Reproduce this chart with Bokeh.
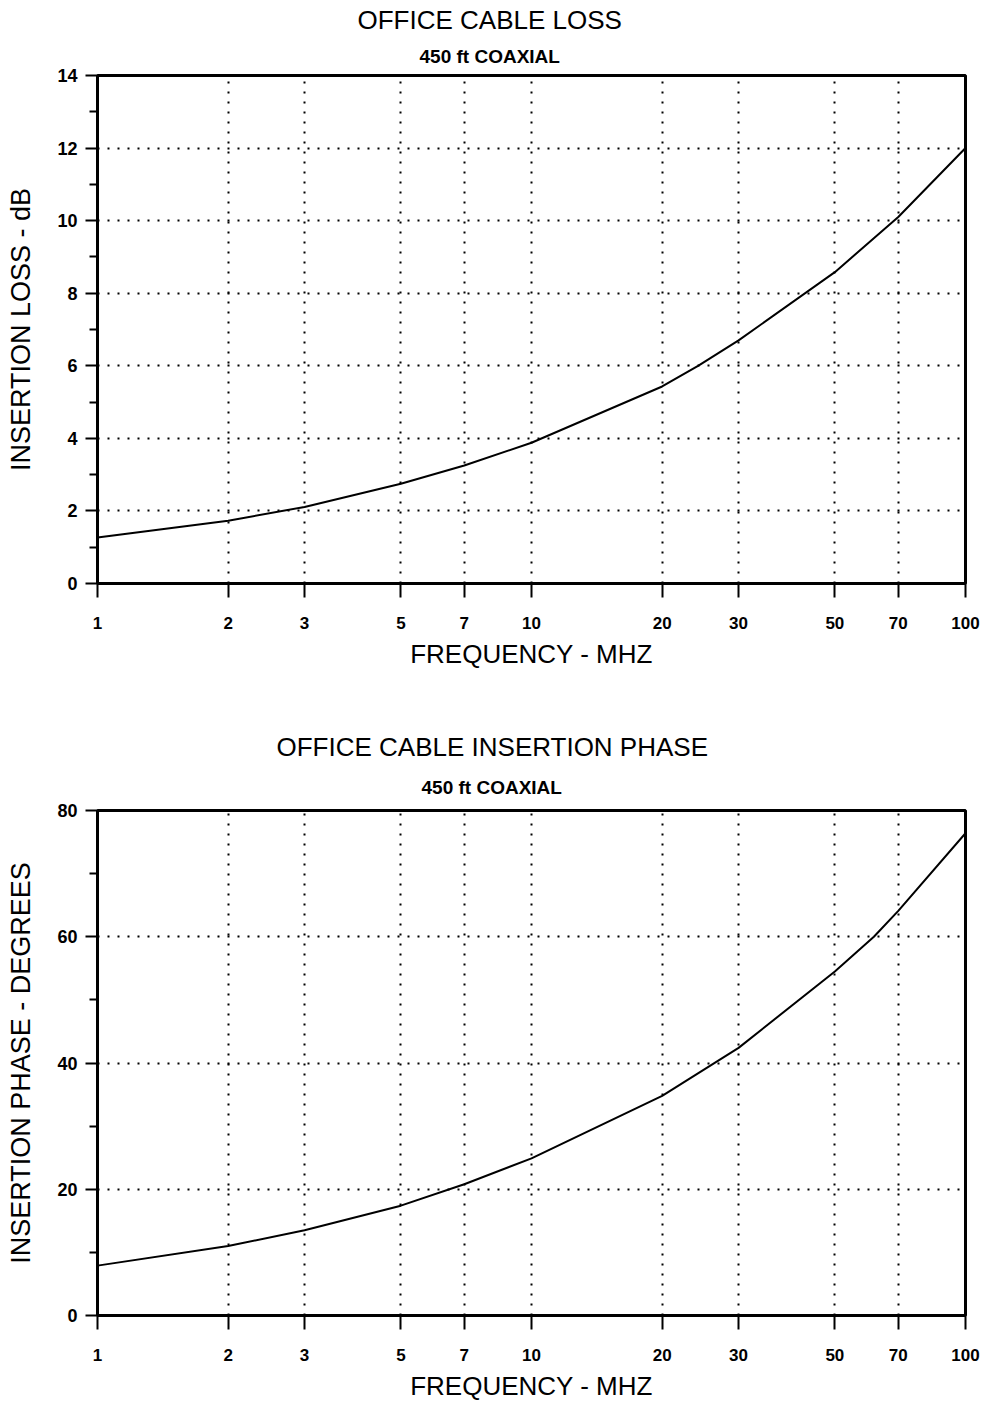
from bokeh.plotting import figure
from bokeh.layouts import column
from bokeh.models import FixedTicker, NumeralTickFormatter, Range1d, Title
from bokeh.embed import file_html
from bokeh.resources import INLINE

# Frequency axis (MHz, log scale)
freq_ticks = [1, 2, 3, 5, 7, 10, 20, 30, 50, 70, 100]
freq_grid = [2, 3, 5, 7, 10, 20, 30, 50, 70]

# Insertion loss of 450 ft of office coaxial cable
loss_freq = [1, 2, 3, 5, 7, 10, 20, 24.2, 30, 50, 70, 100]
loss_db = [1.27, 1.73, 2.11, 2.75, 3.25, 3.88, 5.43, 6.0, 6.70, 8.58, 10.1, 12.0]

# Insertion phase of the same cable
phase_freq = [1, 2, 3, 5, 7, 10, 20, 30, 50, 61.5, 70, 100]
phase_deg = [7.9, 11.0, 13.5, 17.4, 20.8, 24.9, 34.8, 42.4, 54.5, 60.0, 64.1, 76.4]

# Vertical axes
loss_ticks = [0, 2, 4, 6, 8, 10, 12, 14]
loss_minor = [1, 3, 5, 7, 9, 11, 13]
loss_grid = [2, 4, 6, 8, 10, 12]
phase_ticks = [0, 20, 40, 60, 80]
phase_minor = [10, 30, 50, 70]
phase_grid = [20, 40, 60]

FONT = "Liberation Sans"

# Advance widths (per 1000 em) used to centre the left-aligned titles
WIDTH_REGULAR = {" ": 278, "A": 667, "B": 667, "C": 722, "D": 722, "E": 667,
                 "F": 611, "G": 778, "H": 722, "I": 278, "L": 556, "N": 722,
                 "O": 778, "P": 667, "R": 722, "S": 667, "T": 611, "X": 667}
WIDTH_BOLD = {" ": 278, "0": 556, "4": 556, "5": 556, "f": 333, "t": 333,
              "C": 722, "O": 778, "A": 722, "X": 667, "I": 278, "L": 611}


def text_width(text, size, table):
    return sum(table.get(ch, 600) for ch in text) * size / 1000.0


def make_panel(title, subtitle, xvals, yvals, ylabel, yticks, yminor, ygrid, ymax,
               height, top, left, right, frame_h, sub_standoff, title_standoff):
    bottom = height - top - frame_h
    p = figure(width=992, height=height, x_axis_type="log", title=None,
               x_range=Range1d(1, 100), y_range=Range1d(0, ymax),
               output_backend="svg", toolbar_location=None,
               min_border_left=left, min_border_right=right,
               min_border_top=top, min_border_bottom=bottom)
    p.background_fill_color = "white"
    p.border_fill_color = "white"
    p.outline_line_color = "black"
    p.outline_line_width = 3
    p.outline_line_alpha = 1.0

    p.xaxis.ticker = FixedTicker(ticks=freq_ticks, minor_ticks=[])
    p.xaxis.formatter = NumeralTickFormatter(format="0")
    p.yaxis.ticker = FixedTicker(ticks=yticks, minor_ticks=yminor)

    for ax in (p.xaxis[0], p.yaxis[0]):
        ax.axis_line_width = 3
        ax.axis_line_color = "black"
        ax.major_tick_line_width = 2
        ax.major_tick_line_color = "black"
        ax.major_tick_in = 0
        ax.minor_tick_line_width = 2
        ax.minor_tick_line_color = "black"
        ax.minor_tick_in = 0
        ax.major_label_text_font = FONT
        ax.major_label_text_font_style = "bold"
        ax.major_label_text_color = "black"
        ax.axis_label_text_font = FONT
        ax.axis_label_text_font_style = "normal"
        ax.axis_label_text_color = "black"

    p.xaxis.major_tick_out = 14
    p.xaxis.major_label_text_font_size = "17px"
    p.xaxis.major_label_standoff = 19
    p.xaxis.axis_label = "FREQUENCY - MHZ"
    p.xaxis.axis_label_text_font_size = "26px"
    p.xaxis.axis_label_standoff = 7

    p.yaxis.major_tick_out = 12
    p.yaxis.minor_tick_out = 8
    p.yaxis.major_label_text_font_size = "18px"
    p.yaxis.major_label_standoff = 8
    p.yaxis.axis_label = ylabel
    p.yaxis.axis_label_text_font_size = "27px"
    p.yaxis.axis_label_standoff = 18

    p.xgrid.ticker = FixedTicker(ticks=freq_grid)
    p.ygrid.ticker = FixedTicker(ticks=ygrid)
    for g in (p.xgrid[0], p.ygrid[0]):
        g.grid_line_color = "black"
        g.grid_line_dash = "2 8"
        g.grid_line_width = 2
        g.grid_line_alpha = 1.0

    p.line(xvals, yvals, line_color="black", line_width=2)

    # Titles: left-aligned with offsets so that both lines are centred near x = 490
    centre = 490 - left
    sub_w = text_width(subtitle, 19, WIDTH_BOLD)
    title_w = text_width(title, 26, WIDTH_REGULAR)
    p.add_layout(Title(text=subtitle, align="left", offset=int(centre - sub_w / 2),
                       text_font=FONT, text_font_style="bold", text_font_size="19px",
                       text_color="black", standoff=sub_standoff), "above")
    p.add_layout(Title(text=title, align="left", offset=int(centre - title_w / 2),
                       text_font=FONT, text_font_style="normal", text_font_size="26px",
                       text_color="black", standoff=title_standoff), "above")
    return p


p1 = make_panel("OFFICE CABLE LOSS", "450 ft COAXIAL", loss_freq, loss_db,
                "INSERTION LOSS - dB", loss_ticks, loss_minor, loss_grid, 14,
                height=700, top=75, left=97, right=25, frame_h=508,
                sub_standoff=18, title_standoff=0)
p2 = make_panel("OFFICE CABLE INSERTION PHASE", "450 ft COAXIAL", phase_freq, phase_deg,
                "INSERTION PHASE - DEGREES", phase_ticks, phase_minor, phase_grid, 80,
                height=703, top=110, left=95, right=27, frame_h=506,
                sub_standoff=26, title_standoff=0)

layout = column(p1, p2, spacing=0)
open("out.html", "w").write(file_html(layout, INLINE))
